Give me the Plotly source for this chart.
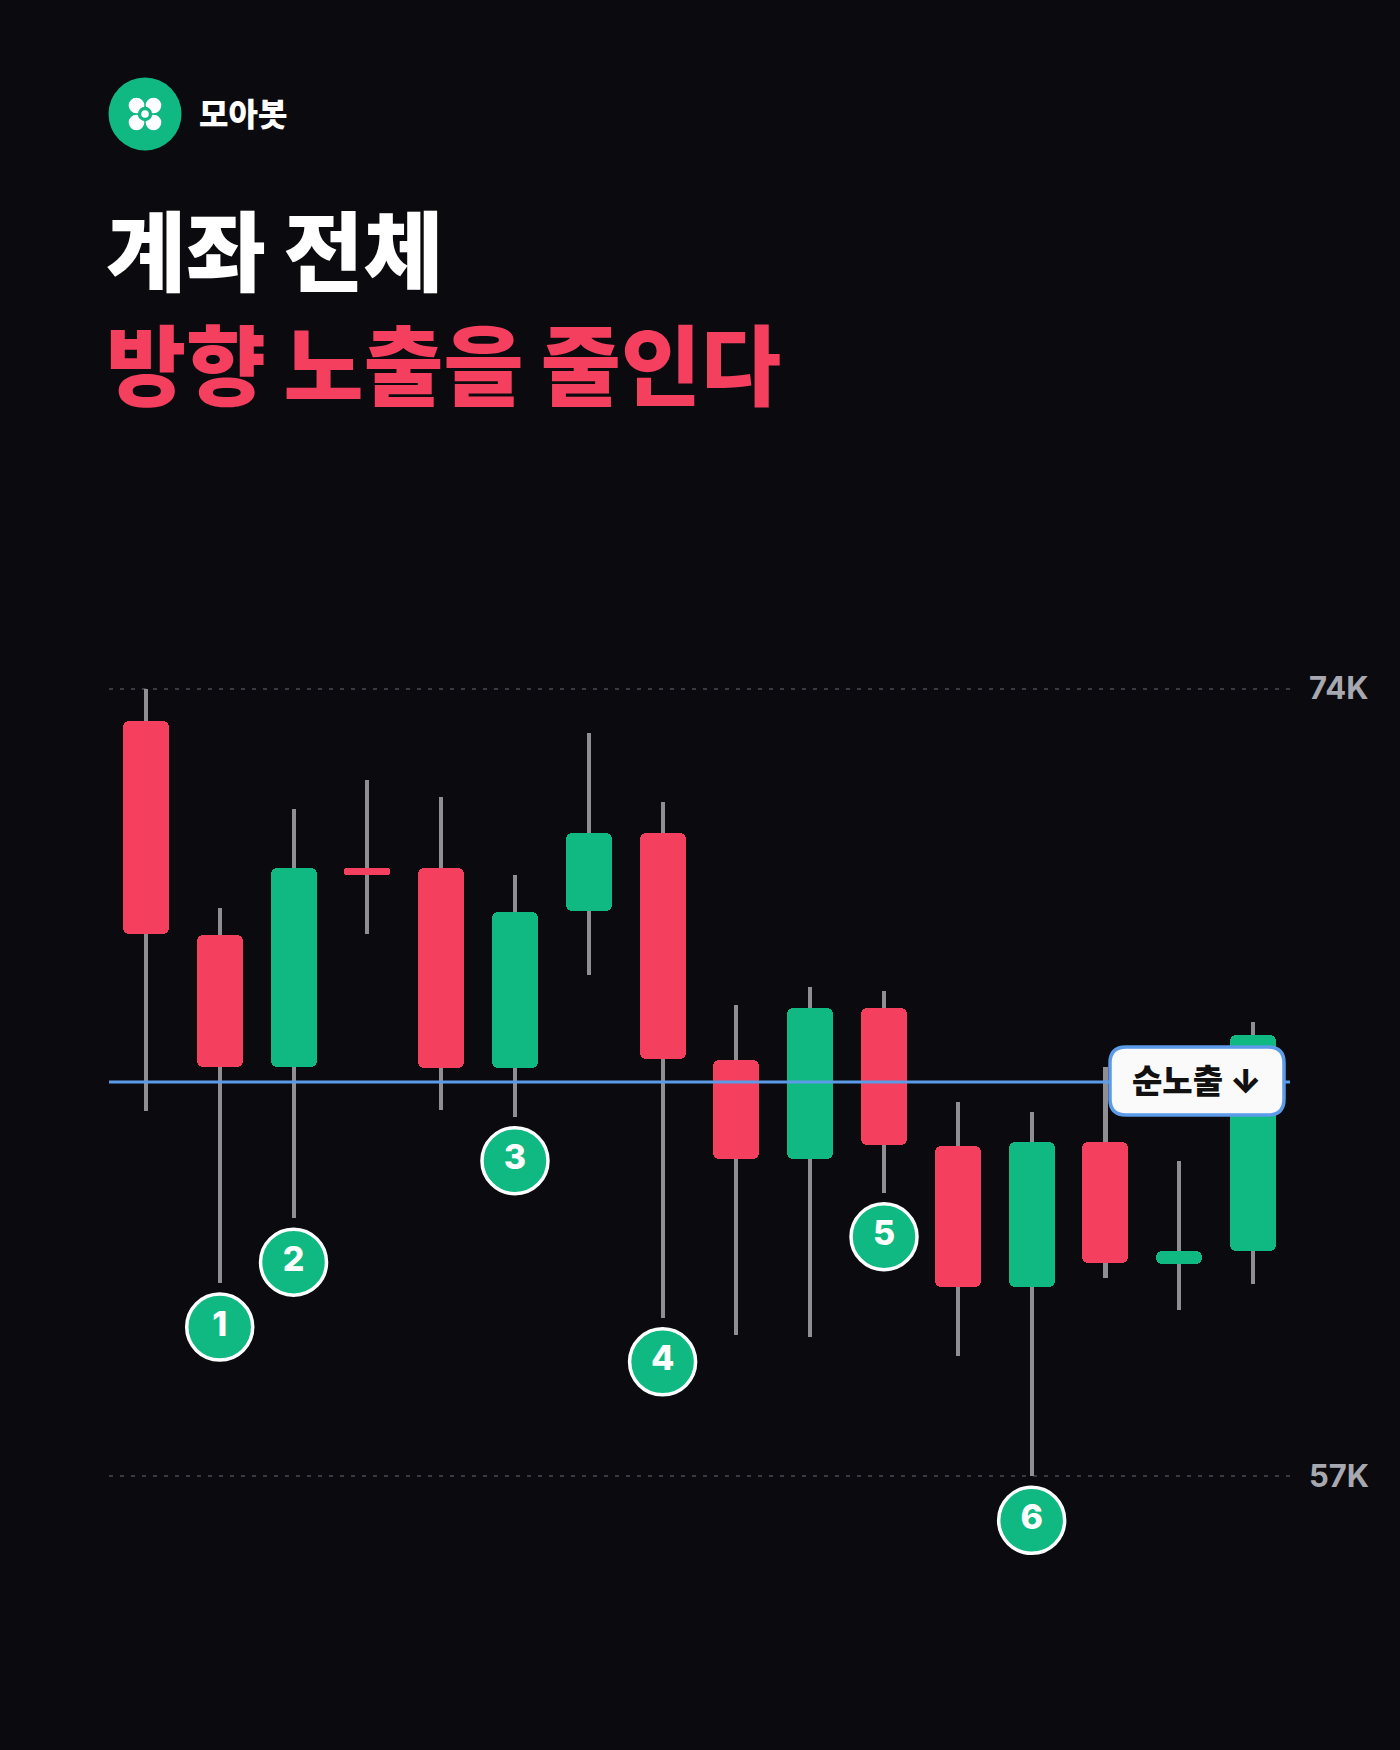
import plotly.graph_objects as go

# ---------------- data (values in K) ----------------
candle_idx = list(range(16))
opens  = [73.30, 68.68, 65.84, 70.12, 70.12, 65.81, 69.20, 70.89, 65.99, 63.84, 67.11, 64.12, 61.08, 64.22, 61.58, 61.87]
highs  = [74.00, 69.26, 71.39, 72.02, 71.65, 69.97, 73.03, 71.56, 67.17, 67.55, 67.48, 65.07, 64.87, 65.84, 63.81, 66.80]
lows   = [64.89, 61.17, 62.57, 68.70, 64.91, 64.76, 67.82, 60.42, 60.06, 60.01, 63.12, 59.60, 57.00, 61.28, 60.58, 61.16]
closes = [68.70, 65.84, 70.13, 69.98, 65.81, 69.17, 70.89, 66.01, 63.84, 67.11, 64.14, 61.08, 64.22, 61.60, 61.86, 66.52]

marker_candles = [1, 2, 5, 7, 10, 12]
marker_labels = ["1", "2", "3", "4", "5", "6"]

net_exposure_level = 65.51
tick_values = [57, 74]
tick_labels = ["57K", "74K"]

brand_name = "모아봇"
title_line1 = "계좌 전체"
title_line2 = "방향 노출을 줄인다"
badge_text = "순노출 ↓"

# ---------------- style ----------------
BG = "#0B0B0F"
RED = "#F43F5E"
GREEN = "#10B981"
WICK = "#8E8E93"
BLUE = "#5B9BE8"
GRID = "#3A3A42"
KFONT = "Inter, Noto Sans CJK KR"

W, H = 1400, 1750
ML, MR, MT, MB = 109, 110, 619, 181
PW, PH = W - ML - MR, H - MT - MB
YMIN, YMAX = 55.0, 75.5
XMIN, XMAX = -0.5, 15.5
px_per_unit = PH / (YMAX - YMIN)


def px_x(x):
    return (x - ML) / PW


def px_y(y):
    return (H - MB - y) / PH


# ---------------- traces ----------------
wick_len = [h - l for h, l in zip(highs, lows)]
body_base = [min(o, c) for o, c in zip(opens, closes)]
body_len = [abs(c - o) for o, c in zip(opens, closes)]
body_col = [RED if c < o else GREEN for o, c in zip(opens, closes)]

fig = go.Figure()
fig.add_trace(go.Bar(
    x=candle_idx, y=wick_len, base=lows, width=0.055,
    marker=dict(color=WICK, line=dict(width=0)), hoverinfo="skip", showlegend=False,
))
fig.add_trace(go.Bar(
    x=candle_idx, y=body_len, base=body_base, width=0.623,
    marker=dict(color=body_col, line=dict(width=0), cornerradius=6),
    hoverinfo="skip", showlegend=False,
))

offset_units = 44 / px_per_unit
mx = marker_candles
my = [lows[i] - offset_units for i in marker_candles]
fig.add_trace(go.Scatter(
    x=mx, y=my, mode="markers+text", text=marker_labels,
    textposition="middle center",
    textfont=dict(family="Inter", size=34, color="white", weight=800),
    marker=dict(size=66, color=GREEN, line=dict(color="white", width=3.5)),
    cliponaxis=False, hoverinfo="skip", showlegend=False,
))

shapes = []
# net exposure line
shapes.append(dict(type="line", xref="paper", yref="y", x0=0, x1=1,
                   y0=net_exposure_level, y1=net_exposure_level,
                   line=dict(color=BLUE, width=3), layer="above"))

# badge rounded rect
bx0, bx1, by0, by1, r = 1110, 1284, 1047, 1115, 16
def P(x, y):
    return f"{px_x(x):.6f},{px_y(y):.6f}"
path = (f"M {P(bx0 + r, by0)} L {P(bx1 - r, by0)} Q {P(bx1, by0)} {P(bx1, by0 + r)} "
        f"L {P(bx1, by1 - r)} Q {P(bx1, by1)} {P(bx1 - r, by1)} "
        f"L {P(bx0 + r, by1)} Q {P(bx0, by1)} {P(bx0, by1 - r)} "
        f"L {P(bx0, by0 + r)} Q {P(bx0, by0)} {P(bx0 + r, by0)} Z")
shapes.append(dict(type="path", xref="paper", yref="paper", path=path,
                   fillcolor="#FAFAFA", line=dict(color=BLUE, width=3.5), layer="above"))

# logo
def circle(cx, cy, rad, color):
    return dict(type="circle", xref="paper", yref="paper",
                x0=px_x(cx - rad), x1=px_x(cx + rad),
                y0=px_y(cy + rad), y1=px_y(cy - rad),
                fillcolor=color, line=dict(width=0), layer="above")

lcx, lcy = 145, 114
shapes.append(circle(lcx, lcy, 36.5, GREEN))
for dx in (-8.5, 8.5):
    for dy in (-8.5, 8.5):
        shapes.append(circle(lcx + dx, lcy + dy, 7.8, "white"))
shapes.append(circle(lcx, lcy, 7.2, GREEN))
shapes.append(circle(lcx, lcy, 3.8, "white"))

annotations = [
    dict(text=brand_name, xref="paper", yref="paper", x=px_x(197), y=px_y(115),
         xanchor="left", yanchor="middle", showarrow=False,
         font=dict(family=KFONT, size=32, color="white", weight=900)),
    dict(text=title_line1, xref="paper", yref="paper", x=px_x(104), y=px_y(254),
         xanchor="left", yanchor="middle", showarrow=False,
         font=dict(family=KFONT, size=87, color="white", weight=900)),
    dict(text=title_line2, xref="paper", yref="paper", x=px_x(104), y=px_y(367),
         xanchor="left", yanchor="middle", showarrow=False,
         font=dict(family=KFONT, size=87, color=RED, weight=900)),
    dict(text=badge_text, xref="paper", yref="paper", x=px_x((bx0 + bx1) / 2), y=px_y((by0 + by1) / 2),
         xanchor="center", yanchor="middle", showarrow=False,
         font=dict(family=KFONT, size=33, color="#111111", weight=900)),
]

fig.update_layout(
    width=W, height=H,
    margin=dict(l=ML, r=MR, t=MT, b=MB, autoexpand=False),
    paper_bgcolor=BG, plot_bgcolor=BG,
    barmode="overlay", bargap=0,
    showlegend=False,
    shapes=shapes, annotations=annotations,
    xaxis=dict(range=[XMIN, XMAX], visible=False, fixedrange=True),
    yaxis=dict(range=[YMIN, YMAX], side="right", tickvals=tick_values, ticktext=tick_labels,
               showgrid=True, gridcolor=GRID, gridwidth=1.5, griddash="4px,7px",
               zeroline=False, showline=False, ticks="", ticklabelstandoff=18,
               tickfont=dict(family="Inter", size=31, color="#A8A8B0", weight=700),
               fixedrange=True),
)

fig.write_html("out.html", config={"displayModeBar": False},
               post_script="document.body.style.margin='0';document.body.style.background='" + BG + "';")
